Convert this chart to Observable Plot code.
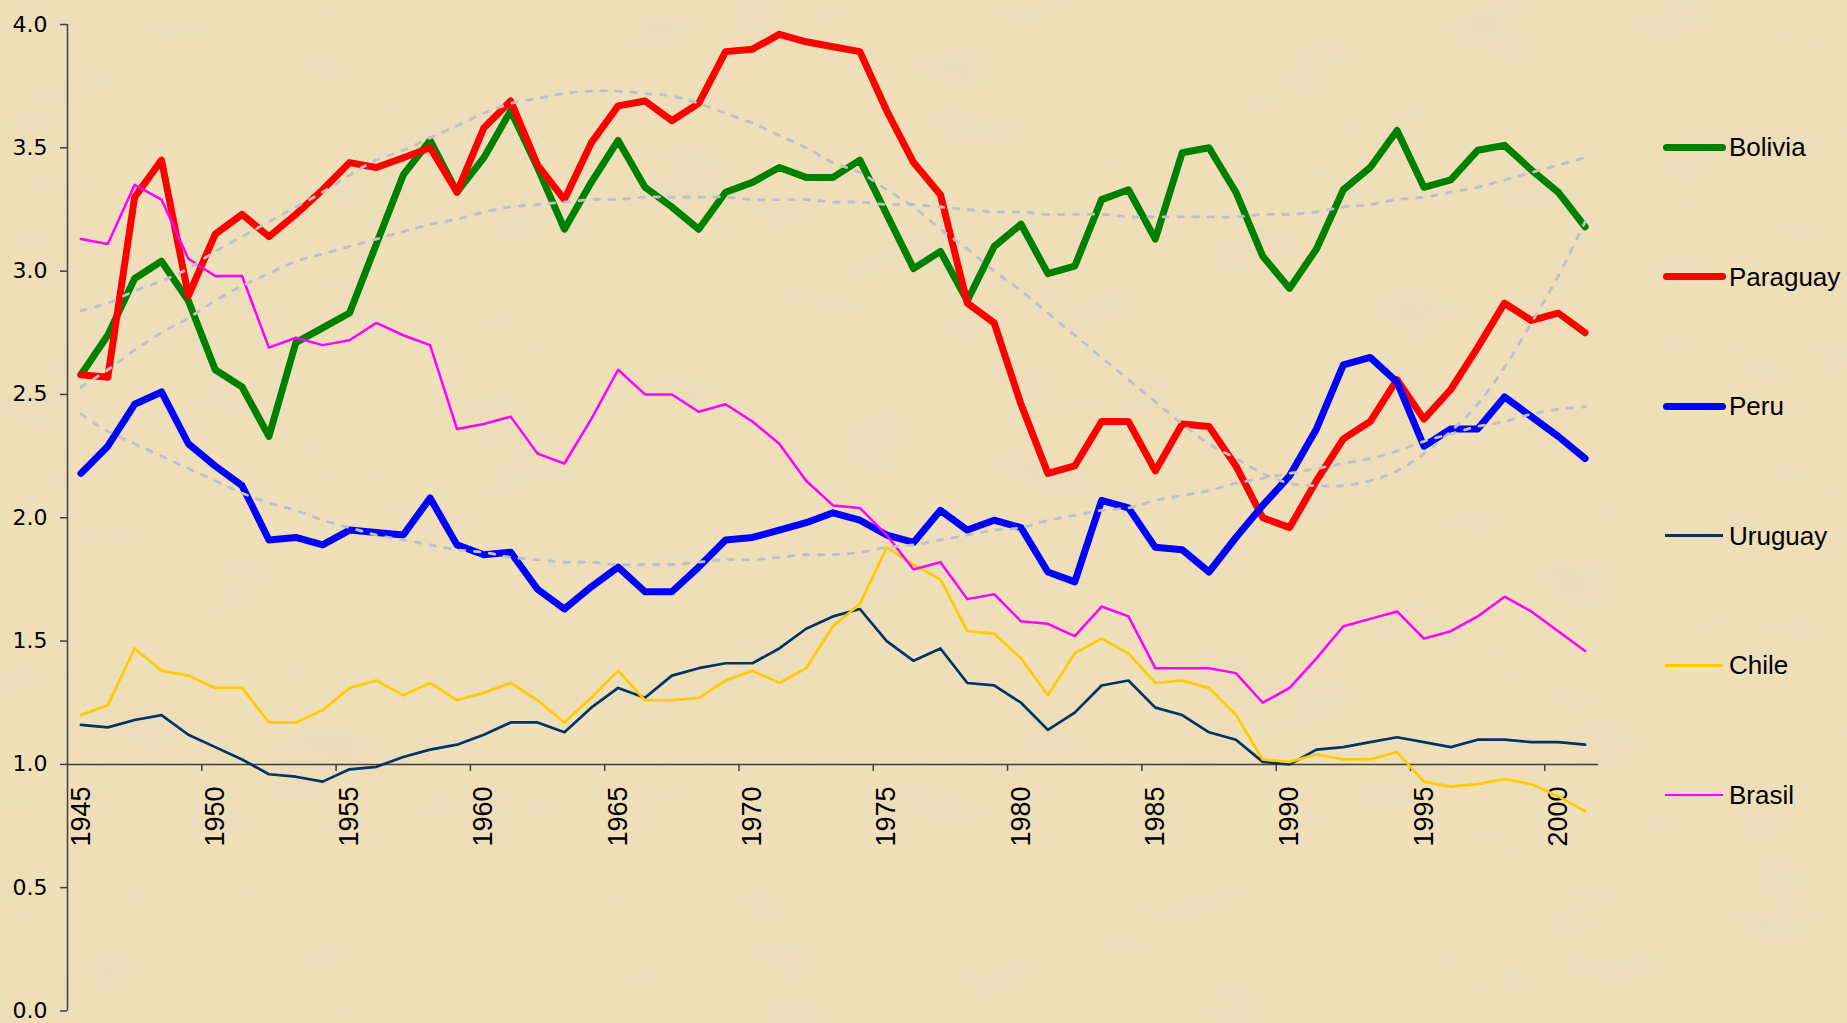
<!DOCTYPE html>
<html>
<head>
<meta charset="utf-8">
<script src="https://cdn.jsdelivr.net/npm/d3@7"></script>
<script src="https://cdn.jsdelivr.net/npm/@observablehq/plot@0.6"></script>
<style>
  html, body { margin: 0; padding: 0; background: #EFDFB9; }
  #wrap { position: relative; width: 1847px; height: 1023px; overflow: hidden; }
  #paper { position: absolute; left: 0; top: 0; }
  #chart { position: absolute; left: 0; top: 0; }
  .legline { position: absolute; }
  .legtext { position: absolute; font-family: "Liberation Sans", Arial, sans-serif; font-size: 26px; color: #000; line-height: 30px; white-space: nowrap; }
</style>
</head>
<body>
<div id="wrap">
  <svg id="paper" width="1847" height="1023">
    <filter id="tex" x="0" y="0" width="100%" height="100%">
      <feTurbulence type="fractalNoise" baseFrequency="0.011 0.018" numOctaves="4" seed="7"/>
      <feColorMatrix type="matrix" values="0 0 0 0 0.80  0 0 0 0 0.68  0 0 0 0 0.47  1.7 0 0 0 -0.62"/>
    </filter>
    <rect width="1847" height="1023" fill="#F0E0BA"/>
    <rect width="1847" height="1023" filter="url(#tex)" opacity="0.6"/>
  </svg>
  <div id="chart"></div>
</div>
<script>
// ---------------- data ----------------
const years = d3.range(1945, 2002); // 1945 … 2001

const bolivia = [2.58,2.74,2.97,3.04,2.88,2.60,2.53,2.33,2.71,2.77,
                 2.83,3.11,3.39,3.53,3.32,3.46,3.65,3.42,3.17,3.36,
                 3.53,3.34,3.26,3.17,3.32,3.36,3.42,3.38,3.38,3.45,
                 3.23,3.01,3.08,2.88,3.10,3.19,2.99,3.02,3.29,3.33,
                 3.13,3.48,3.50,3.32,3.06,2.93,3.09,3.33,3.42,3.57,
                 3.34,3.37,3.49,3.51,3.41,3.32,3.18];
const paraguay = [2.58,2.57,3.30,3.45,2.90,3.15,3.23,3.14,3.23,3.33,
                  3.44,3.42,3.46,3.50,3.32,3.58,3.69,3.43,3.29,3.52,
                  3.67,3.69,3.61,3.68,3.89,3.90,3.96,3.93,3.91,3.89,
                  3.65,3.44,3.31,2.87,2.79,2.46,2.18,2.21,2.39,2.39,
                  2.19,2.38,2.37,2.21,2.00,1.96,2.15,2.32,2.39,2.56,
                  2.40,2.52,2.69,2.87,2.80,2.83,2.75];
const peru = [2.18,2.29,2.46,2.51,2.30,2.21,2.13,1.91,1.92,1.89,
              1.95,1.94,1.93,2.08,1.89,1.85,1.86,1.71,1.63,1.72,
              1.80,1.70,1.70,1.80,1.91,1.92,1.95,1.98,2.02,1.99,
              1.93,1.90,2.03,1.95,1.99,1.96,1.78,1.74,2.07,2.04,
              1.88,1.87,1.78,1.92,2.05,2.17,2.36,2.62,2.65,2.55,
              2.29,2.36,2.36,2.49,2.41,2.33,2.24];
const uruguay = [1.16,1.15,1.18,1.20,1.12,1.07,1.02,0.96,0.95,0.93,
                 0.98,0.99,1.03,1.06,1.08,1.12,1.17,1.17,1.13,1.23,
                 1.31,1.27,1.36,1.39,1.41,1.41,1.47,1.55,1.60,1.63,
                 1.50,1.42,1.47,1.33,1.32,1.25,1.14,1.21,1.32,1.34,
                 1.23,1.20,1.13,1.10,1.01,1.00,1.06,1.07,1.09,1.11,
                 1.09,1.07,1.10,1.10,1.09,1.09,1.08];
const chile = [1.20,1.24,1.47,1.38,1.36,1.31,1.31,1.17,1.17,1.22,
               1.31,1.34,1.28,1.33,1.26,1.29,1.33,1.26,1.17,1.27,
               1.38,1.26,1.26,1.27,1.34,1.38,1.33,1.39,1.56,1.65,
               1.88,1.81,1.75,1.54,1.53,1.43,1.28,1.45,1.51,1.45,
               1.33,1.34,1.31,1.20,1.02,1.01,1.04,1.02,1.02,1.05,
               0.93,0.91,0.92,0.94,0.92,0.87,0.81];
const brasil = [3.13,3.11,3.35,3.29,3.05,2.98,2.98,2.69,2.73,2.70,
                2.72,2.79,2.74,2.70,2.36,2.38,2.41,2.26,2.22,2.40,
                2.60,2.50,2.50,2.43,2.46,2.39,2.30,2.15,2.05,2.04,
                1.93,1.79,1.82,1.67,1.69,1.58,1.57,1.52,1.64,1.60,
                1.39,1.39,1.39,1.37,1.25,1.31,1.43,1.56,1.59,1.62,
                1.51,1.54,1.60,1.68,1.62,1.54,1.46];

// polynomial trendlines as drawn in the chart
const trendBolivia = [2.53,2.60,2.68,2.75,2.81,2.88,2.94,2.99,3.04,3.07,
                      3.10,3.13,3.16,3.19,3.21,3.24,3.26,3.27,3.28,3.29,
                      3.29,3.30,3.30,3.30,3.30,3.29,3.29,3.29,3.28,3.28,
                      3.27,3.27,3.26,3.25,3.24,3.24,3.23,3.23,3.23,3.22,
                      3.22,3.22,3.22,3.22,3.23,3.23,3.24,3.26,3.27,3.29,
                      3.30,3.32,3.34,3.37,3.40,3.43,3.46];
const trendParaguay = [2.84,2.87,2.92,2.96,3.01,3.08,3.14,3.20,3.26,3.32,
                       3.39,3.45,3.49,3.54,3.59,3.64,3.68,3.70,3.72,3.73,
                       3.73,3.72,3.71,3.68,3.64,3.60,3.55,3.50,3.44,3.40,
                       3.33,3.26,3.17,3.09,3.00,2.92,2.83,2.74,2.65,2.56,
                       2.47,2.38,2.30,2.24,2.18,2.14,2.13,2.13,2.15,2.19,
                       2.26,2.35,2.46,2.61,2.79,2.98,3.20];
const trendPeru = [2.42,2.35,2.30,2.25,2.20,2.15,2.10,2.06,2.03,1.99,
                   1.96,1.93,1.91,1.89,1.87,1.86,1.84,1.83,1.82,1.82,
                   1.81,1.81,1.81,1.82,1.83,1.83,1.84,1.85,1.85,1.86,
                   1.88,1.89,1.91,1.93,1.95,1.96,1.99,2.01,2.03,2.04,
                   2.07,2.09,2.11,2.14,2.16,2.18,2.20,2.22,2.24,2.27,
                   2.31,2.34,2.37,2.39,2.42,2.44,2.45];

const seriesNames = ["Bolivia", "Paraguay", "Peru", "Uruguay", "Chile", "Brasil"];
const seriesValues = [bolivia, paraguay, peru, uruguay, chile, brasil];
const trendNames = ["Bolivia", "Paraguay", "Peru"];
const trendValues = [trendBolivia, trendParaguay, trendPeru];
const yTicks = [0, 0.5, 1, 1.5, 2, 2.5, 3, 3.5, 4];
const xLabelYears = [1945, 1950, 1955, 1960, 1965, 1970, 1975, 1980, 1985, 1990, 1995, 2000];

// ---------------- styles ----------------
const seriesColors = ["#008000", "#FF0000", "#0000FF", "#003366", "#FFCC00", "#FF00FF"];
const seriesWidths = [7, 7, 7, 2.7, 2.7, 2.5];
const axisColor = "#404040";

// ---------------- tables ----------------
const rows = [];
seriesNames.forEach((name, i) => years.forEach((yr, k) => rows.push({name, year: yr, value: seriesValues[i][k]})));
const trendRows = [];
trendNames.forEach((name, i) => years.forEach((yr, k) => trendRows.push({name, year: yr, value: trendValues[i][k]})));
const tickBounds = xLabelYears.slice(1).map(y => y - 0.5);

const lineMarks = seriesNames.map((name, i) =>
  Plot.line(rows.filter(d => d.name === name), {
    x: "year", y: "value",
    stroke: seriesColors[i], strokeWidth: seriesWidths[i],
    strokeLinejoin: "round", strokeLinecap: "round"
  })
);

const chart = Plot.plot({
  width: 1620,
  height: 1023,
  marginLeft: 67,
  marginRight: 22,
  marginTop: 24,
  marginBottom: 12.5,
  style: {background: "transparent", overflow: "visible", color: "#000"},
  x: {type: "linear", domain: [years[0] - 0.5, years[years.length - 1] + 0.5], axis: null},
  y: {domain: [0, 4], axis: null},
  marks: [
    Plot.axisY({
      ticks: yTicks, tickFormat: d => d.toFixed(1), tickSize: 7, tickPadding: 13,
      fontSize: 22, fontFamily: "DejaVu Sans, sans-serif", label: null,
      stroke: axisColor, strokeWidth: 1.5
    }),
    Plot.ruleX([years[0] - 0.5], {stroke: axisColor, strokeWidth: 1.5}),
    Plot.ruleY([1], {x1: years[0] - 0.5, x2: years[years.length - 1] + 0.5, stroke: axisColor, strokeWidth: 1.5}),
    Plot.ruleX(tickBounds, {x: d => d, y1: 1, y2: 1, insetBottom: -7, stroke: axisColor, strokeWidth: 1.5}),
    Plot.text(xLabelYears, {
      x: d => d, y: 1, text: d => String(d), rotate: -90, textAnchor: "end", dy: 22,
      fontSize: 27, fontFamily: "'Liberation Sans Narrow', 'Arial Narrow', sans-serif", fill: "#000"
    }),
    ...lineMarks,
    Plot.line(trendRows, {
      x: "year", y: "value", z: "name", curve: "catmull-rom",
      stroke: "#BEC1C9", strokeWidth: 2.8, strokeDasharray: "5.5,9.5"
    })
  ]
});
document.getElementById("chart").appendChild(chart);

// ---------------- legend ----------------
const wrap = document.getElementById("wrap");
const legTop = 147, legStep = 129.6;
seriesNames.forEach((name, i) => {
  const cy = legTop + i * legStep;
  const w = seriesWidths[i];
  const thick = w > 4;
  const line = document.createElement("div");
  line.className = "legline";
  line.style.left = (thick ? 1663 : 1665) + "px";
  line.style.width = (thick ? 63 : 58) + "px";
  line.style.height = w + "px";
  line.style.top = (cy - w / 2) + "px";
  line.style.background = seriesColors[i];
  line.style.borderRadius = (thick ? w / 2 : 0) + "px";
  wrap.appendChild(line);
  const txt = document.createElement("div");
  txt.className = "legtext";
  txt.textContent = name;
  txt.style.left = "1729px";
  txt.style.top = (cy - 15) + "px";
  wrap.appendChild(txt);
});
</script>
</body>
</html>
